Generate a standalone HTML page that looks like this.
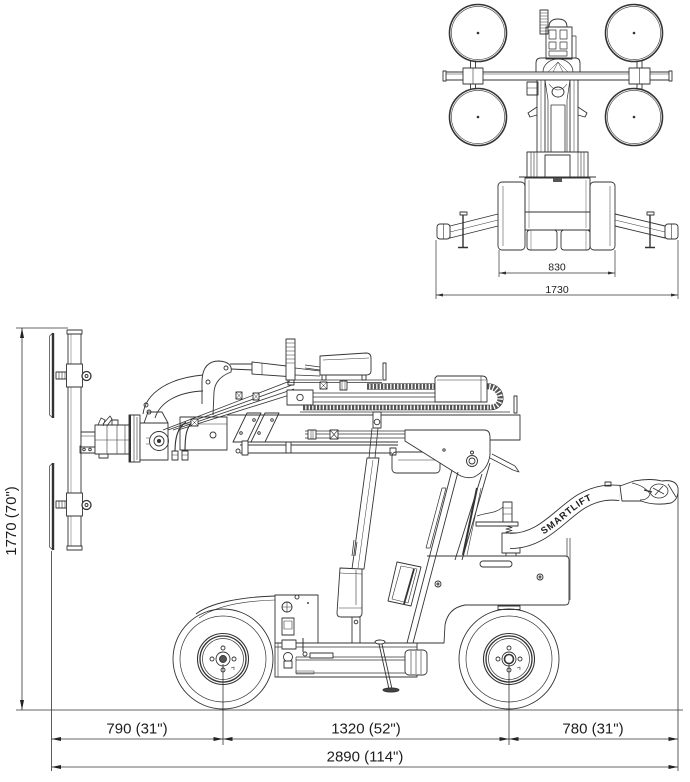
<!DOCTYPE html>
<html><head><meta charset="utf-8"><style>
html,body{margin:0;padding:0;background:#fff;}
svg{display:block;}
text{font-family:"Liberation Sans",Arial,sans-serif;fill:#1e1e1e;stroke:none;}
</style></head><body>
<svg width="690" height="782" viewBox="0 0 690 782" xmlns="http://www.w3.org/2000/svg" fill="none" stroke="#333" stroke-width="0.9" stroke-linejoin="round">

<!-- ================= TOP VIEW ================= -->
<g>
  <circle cx="478" cy="33" r="28.5" stroke-width="1.6"/><circle cx="478" cy="33" r="26.6" stroke-width=".6"/>
  <circle cx="634" cy="33" r="28.5" stroke-width="1.6"/><circle cx="634" cy="33" r="26.6" stroke-width=".6"/>
  <circle cx="478" cy="117" r="28.5" stroke-width="1.6"/><circle cx="478" cy="117" r="26.6" stroke-width=".6"/>
  <circle cx="634" cy="117" r="28.5" stroke-width="1.6"/><circle cx="634" cy="117" r="26.6" stroke-width=".6"/>
  <g fill="#333" stroke="none">
    <circle cx="478" cy="33" r="1.3"/><circle cx="634" cy="33" r="1.3"/>
    <circle cx="478" cy="117" r="1.3"/><circle cx="634" cy="117" r="1.3"/>
  </g>
  <rect x="470.5" y="61" width="5" height="28"/>
  <rect x="637" y="61" width="5" height="28"/>
  <rect x="444" y="72" width="227" height="8" fill="#fff"/>
  <line x1="444" y1="74" x2="671" y2="74" stroke-width=".5"/>
  <rect x="443" y="71" width="3" height="10" fill="#fff"/>
  <rect x="669" y="71" width="3" height="10" fill="#fff"/>
  <rect x="463" y="68" width="20" height="16" fill="#fff"/>
  <rect x="629" y="68" width="21" height="16" fill="#fff"/>
  <line x1="473" y1="68" x2="473" y2="84" stroke-width=".6"/>
  <line x1="639.5" y1="68" x2="639.5" y2="84" stroke-width=".6"/>
  <rect x="540" y="10" width="8" height="24"/>
  <path d="M540,13h8M540,16h8M540,19h8M540,22h8M540,25h8M540,28h8M540,31h8" stroke-width=".6"/>
  <path d="M549,27 Q549,19 558,19 Q567,19 567,27 Z"/>
  <rect x="546" y="27" width="26" height="32"/>
  <rect x="549" y="30" width="7" height="9" stroke-width=".7"/>
  <rect x="560" y="30" width="7" height="9" stroke-width=".7"/>
  <rect x="549" y="42" width="7" height="7" stroke-width=".7"/>
  <rect x="560" y="42" width="7" height="7" stroke-width=".7"/>
  <rect x="549" y="51" width="18" height="5" stroke-width=".7"/>
  <rect x="572" y="36" width="4" height="22" stroke-width=".7"/>
  <path d="M536,72 L536,63 Q536,58 541,58 L575,58 Q580,58 580,63 L580,72"/>
  <path d="M543,72 A15,13 0 0 1 573,72" stroke-width=".7"/>
  <path d="M548,72 L558,62 L568,72 M553,72 L558,62 L563,72" stroke-width=".5"/>
  <rect x="527" y="82" width="11" height="13" fill="#fff"/>
  <line x1="527" y1="88" x2="538" y2="88" stroke-width=".5"/>
  <rect x="537" y="80" width="8" height="77"/>
  <rect x="570" y="80" width="8" height="77"/>
  <line x1="541" y1="80" x2="541" y2="157" stroke-width=".5"/>
  <line x1="574" y1="80" x2="574" y2="157" stroke-width=".5"/>
  <path d="M545,80 L548,100 L548,157 M570,80 L567,100 L567,157" stroke-width=".7"/>
  <rect x="551" y="105" width="14" height="52" stroke-width=".8"/>
  <ellipse cx="558" cy="92" rx="6" ry="5"/>
  <path d="M549,84 Q558,96 567,84" stroke-width=".6"/>
  <path d="M537,107 L528,113 L530,117 L537,115 M578,107 L587,113 L585,117 L578,115"/>
  <rect x="527" y="152" width="61" height="26" fill="#fff"/>
  <path d="M531,152v26M534,152v26M537,152v26M578,152v26M581,152v26M584,152v26" stroke-width=".6"/>
  <rect x="545" y="155" width="25" height="23"/>
  <line x1="519" y1="177" x2="596" y2="177" stroke-width="1"/>
  <rect x="525" y="178" width="65" height="52" fill="#fff"/>
  <line x1="525" y1="212" x2="590" y2="212"/>
  <path d="M529,180v48M586,180v48" stroke-width=".4"/>
  <rect x="553" y="178" width="9" height="4" fill="#555" stroke="none"/>
  <rect x="498" y="182" width="27" height="68" rx="4"/>
  <line x1="503" y1="186" x2="503" y2="246" stroke-width=".5"/>
  <rect x="590" y="182" width="25" height="68" rx="4"/>
  <line x1="610" y1="186" x2="610" y2="246" stroke-width=".5"/>
  <rect x="527" y="230" width="30" height="20" rx="3"/>
  <rect x="561" y="230" width="29" height="20" rx="3"/>
  <path d="M531,230v20M586,230v20" stroke-width=".4"/>
  <polygon points="450,226 498,214 498,226 450,238" fill="#fff"/>
  <line x1="450" y1="232" x2="498" y2="220" stroke-width=".5"/>
  <rect x="437" y="224" width="13" height="15" rx="3" fill="#fff"/>
  <line x1="443.5" y1="224" x2="443.5" y2="239" stroke-width=".6"/>
  <line x1="463" y1="214" x2="463" y2="247" stroke-width="1.4"/>
  <rect x="460" y="212" width="7" height="3" fill="#fff"/>
  <line x1="458" y1="247.5" x2="468" y2="247.5" stroke-width="1.5"/>
  <polygon points="615,214 665,226 665,238 615,226" fill="#fff"/>
  <line x1="615" y1="220" x2="665" y2="232" stroke-width=".5"/>
  <rect x="665" y="224" width="13" height="15" rx="3" fill="#fff"/>
  <line x1="671.5" y1="224" x2="671.5" y2="239" stroke-width=".6"/>
  <line x1="650" y1="214" x2="650" y2="247" stroke-width="1.4"/>
  <rect x="647" y="212" width="7" height="3" fill="#fff"/>
  <line x1="645" y1="247.5" x2="655" y2="247.5" stroke-width="1.5"/>
  <g stroke-width=".7">
    <line x1="499" y1="250" x2="499" y2="277"/>
    <line x1="615" y1="250" x2="615" y2="277"/>
    <line x1="499" y1="273" x2="615" y2="273"/>
    <line x1="436" y1="240" x2="436" y2="299"/>
    <line x1="678" y1="240" x2="678" y2="299"/>
    <line x1="436" y1="295" x2="678" y2="295"/>
  </g>
  <g fill="#333" stroke="none">
    <polygon points="499,273 506,271.5 506,274.5"/><polygon points="615,273 608,271.5 608,274.5"/>
    <polygon points="436,295 443,293.5 443,296.5"/><polygon points="678,295 671,293.5 671,296.5"/>
  </g>
  <text x="557" y="270.5" font-size="10.5" text-anchor="middle">830</text>
  <text x="557" y="293" font-size="10.5" text-anchor="middle">1730</text>
</g>

<!-- ================= SIDE VIEW ================= -->
<g stroke-width=".8">
  <line x1="16" y1="328" x2="68" y2="328"/>
  <line x1="22" y1="328" x2="22" y2="710"/>
  <line x1="16" y1="710" x2="683" y2="710"/>
  <line x1="51.5" y1="551" x2="51.5" y2="771"/>
  <line x1="223" y1="664" x2="223" y2="745"/>
  <line x1="509" y1="664" x2="509" y2="745"/>
  <line x1="678" y1="488" x2="678" y2="771"/>
  <line x1="51.5" y1="739" x2="678" y2="739"/>
  <line x1="51.5" y1="767" x2="678" y2="767"/>
</g>
<g fill="#222" stroke="none">
  <polygon points="22,328 20,338 24,338"/>
  <polygon points="22,710 20,700 24,700"/>
  <polygon points="51.5,739 61,737 61,741"/><polygon points="223,739 213.5,737 213.5,741"/>
  <polygon points="223,739 232.5,737 232.5,741"/><polygon points="509,739 499.5,737 499.5,741"/>
  <polygon points="509,739 518.5,737 518.5,741"/><polygon points="678,739 668.5,737 668.5,741"/>
  <polygon points="51.5,767 61,765 61,769"/><polygon points="678,767 668.5,765 668.5,769"/>
</g>
<text x="0" y="0" font-size="15" text-anchor="middle" transform="translate(16,521) rotate(-90)">1770 (70")</text>
<text x="137" y="733.5" font-size="15" text-anchor="middle">790 (31")</text>
<text x="366" y="733.5" font-size="15" text-anchor="middle">1320 (52")</text>
<text x="593" y="733.5" font-size="15" text-anchor="middle">780 (31")</text>
<text x="365" y="761.5" font-size="15" text-anchor="middle">2890 (114")</text>

<!-- glass frame -->
<g>
  <path d="M49.5,336 L49.5,415 M49.5,336 L53,333 M49.5,415 L53,418" stroke-width=".7"/>
  <line x1="53" y1="333" x2="53" y2="418" stroke-width="2.4"/>
  <path d="M49.5,466 L49.5,547 M49.5,466 L53,463 M49.5,547 L53,550" stroke-width=".7"/>
  <line x1="53" y1="463" x2="53" y2="550" stroke-width="2.4"/>
  <rect x="68" y="332" width="13" height="217" fill="#fff"/>
  <line x1="71" y1="334" x2="71" y2="547" stroke-width=".4"/>
  <rect x="67" y="330" width="15" height="4" fill="#fff"/>
  <rect x="67" y="546" width="15" height="4" fill="#fff"/>
  <rect x="56" y="372" width="12" height="7" fill="#fff"/>
  <path d="M59,372v7M62,372v7M65,372v7" stroke-width=".6"/>
  <rect x="66.5" y="364" width="16" height="23" fill="#fff"/>
  <circle cx="86.5" cy="376" r="4.5" fill="#fff" stroke-width="1.3"/>
  <circle cx="86.5" cy="376" r="1.5"/>
  <rect x="56" y="501" width="12" height="7" fill="#fff"/>
  <path d="M59,501v7M62,501v7M65,501v7" stroke-width=".6"/>
  <rect x="66.5" y="493" width="16" height="23" fill="#fff"/>
  <circle cx="86.5" cy="505" r="4.5" fill="#fff" stroke-width="1.3"/>
  <circle cx="86.5" cy="505" r="1.5"/>
  <rect x="80" y="446" width="15" height="7"/>
  <circle cx="84" cy="449.5" r="1.3"/><circle cx="90" cy="449.5" r="1.3"/>
</g>

<!-- rotator -->
<g>
  <rect x="81" y="432" width="14" height="15" fill="#fff"/>
  <path d="M81,436h14" stroke-width=".5"/>
  <rect x="95" y="425" width="35" height="29" fill="#fff"/>
  <path d="M107,425v29M117,425v29M125,425v29M95,440h35" stroke-width=".6"/>
  <path d="M98,425 L101,418 L105,420 L103,426 M103,424 L110,416 L112,419 L107,426" stroke-width=".8"/>
  <rect x="99" y="454" width="9" height="4" fill="#fff"/>
  <rect x="112" y="420" width="6" height="5"/>
  <rect x="129" y="415" width="11" height="47" fill="#fff"/>
  <line x1="130" y1="415" x2="130" y2="462" stroke-width="2"/>
  <path d="M134,415v47M137,417v43" stroke-width=".6"/>
  <rect x="140" y="423" width="28" height="37" fill="#fff"/>
  <circle cx="159" cy="441" r="9.5"/>
  <circle cx="159" cy="441" r="5"/>
  <circle cx="159" cy="441" r="1.6" fill="#333"/>
  <path d="M144,423 L148,412 L162,412 L168,423" />
  <path d="M146,438h4M146,444h4" stroke-width=".6"/>
</g>

<!-- curved arm and pivot plate -->
<g>
  <path d="M143,414 C146,392 170,378 203,375"/>
  <path d="M155,418 C160,402 178,392 203,391"/>
  <circle cx="146" cy="405" r="2"/><circle cx="149" cy="412" r="2"/>
  <path d="M202,404 L202,380 Q203,361 219,361 Q233,362 231,372 Q215,378 214,392 L213,415"/>
  <circle cx="208" cy="382" r="2"/><circle cx="226" cy="368" r="2"/>
  <path d="M230,364 L253,364 M231,369 L253,370"/>
  <polygon points="252,362 295,367 295,377 252,374" fill="#fff"/>
  <line x1="262" y1="363" x2="262" y2="375" stroke-width=".6"/>
  <path d="M295,368 L320,371 M295,375 L320,376" stroke-width=".8"/>
</g>

<!-- boom base -->
<g>
  <rect x="180" y="417" width="47" height="33" fill="#fff"/>
  <circle cx="213" cy="435" r="3"/>
  <line x1="180" y1="424" x2="227" y2="424" stroke-width=".5"/>
  <path d="M163,430 L290,381 M168,430 L292,385 M173,430 L294,389 M178,430 L296,393" stroke-width=".8"/>
  <path d="M186,422 C178,428 175,436 175,452 M193,421 C186,428 185,436 185,452" stroke-width="1.1"/>
  <rect x="172" y="451" width="6" height="9" fill="#fff"/>
  <rect x="182" y="451" width="6" height="9" fill="#fff"/>
  <path d="M172,455h6M182,455h6" stroke-width=".5"/>
  <rect x="191" y="419" width="7" height="7" fill="#fff"/><path d="M191,419l7,7M198,419l-7,7" stroke-width=".5"/>
  <rect x="236" y="392" width="6" height="7" fill="#fff"/><path d="M236,392l6,7M242,392l-6,7" stroke-width=".5"/>
  <rect x="253" y="393" width="6" height="7" fill="#fff"/><path d="M253,393l6,7M259,393l-6,7" stroke-width=".5"/>
  <polygon points="233,442 247,413 261,413 247,442" fill="#fff"/>
  <polygon points="251,442 265,413 279,413 265,442" fill="#fff"/>
  <circle cx="241" cy="433" r="1.3"/><circle cx="254" cy="420" r="1.3"/>
  <circle cx="259" cy="433" r="1.3"/><circle cx="272" cy="420" r="1.3"/>
  <circle cx="238" cy="451" r="2"/>
</g>

<!-- boom -->
<g>
  <path d="M227,415 L520,415 L520,440 L488,440"/>
  <path d="M240,442 L398,442 M240,445 L398,445 M240,453 L392,453"/>
  <rect x="242" y="441" width="6" height="14" fill="#fff"/>
  <rect x="286" y="442" width="5" height="11" fill="#fff"/>
  <rect x="392" y="452" width="48" height="21" rx="4" fill="#fff"/>
  <line x1="398" y1="460" x2="440" y2="460" stroke-width=".5"/>
  <rect x="390" y="448" width="6" height="7"/>
  <path d="M305,431 L445,431 M305,434 L445,434 M305,438 L445,438" stroke-width=".7"/>
  <rect x="308" y="430" width="8" height="9" fill="#fff"/><rect x="330" y="430" width="8" height="9" fill="#fff"/>
  <rect x="413" y="430" width="8" height="9" fill="#fff"/><rect x="433" y="430" width="8" height="9" fill="#fff"/>
  <path d="M330,430l8,9M338,430l-8,9M413,430l8,9M421,430l-8,9" stroke-width=".6"/>
  <path d="M311,430v9M313,430v9M436,430v9M438,430v9" stroke-width=".5"/>
  <path d="M287,380 L382,380 M287,382.5 L382,382.5" stroke-width=".8"/>
  <rect x="287" y="390" width="26" height="15" fill="#fff"/>
  <circle cx="300" cy="397.5" r="3.2"/>
  <path d="M313,393 L480,393 M313,397 L480,397 M313,402 L480,402 M300,412 L510,412" stroke-width=".7"/>
  <path d="M367,386.5 L487,386.5" stroke="#555" stroke-width="5.5" stroke-dasharray="2.2 1.3"/>
  <path d="M367,383.5 L487,383.5 M367,389.5 L487,389.5" stroke-width=".6"/>
  <path d="M303,407.5 L490,407.5" stroke="#555" stroke-width="5" stroke-dasharray="2.2 1.3"/>
  <path d="M303,405 L490,405 M303,410 L490,410" stroke-width=".6"/>
  <path d="M487,386.5 C503,386.5 505,407.5 490,407.5" stroke="#555" stroke-width="5.5" stroke-dasharray="2.2 1.3"/>
  <path d="M487,383.5 C507,383.5 509,410 490,410" stroke-width=".6"/>
  <path d="M320,356 L366,353 Q371,353 371,358 L371,371 Q371,375 366,375 L320,375 Z" fill="#fff"/>
  <line x1="323" y1="360" x2="369" y2="358" stroke-width=".6"/>
  <path d="M305,365 L320,367 M305,368 L320,370" stroke-width=".8"/>
  <rect x="322" y="375" width="4" height="5"/><rect x="362" y="375" width="4" height="5"/>
  <path d="M437,376 L482,376 Q487,376 487,381 L487,402 L435,402 L435,378 Z" fill="#fff"/>
  <line x1="437" y1="380" x2="486" y2="380" stroke-width=".6"/>
  <line x1="481" y1="376" x2="481" y2="402" stroke-width=".6"/>
  <rect x="320" y="382" width="7" height="7" fill="#fff"/><path d="M320,382l7,7M327,382l-7,7" stroke-width=".5"/>
  <rect x="340" y="381" width="7" height="9" fill="#fff"/><path d="M342,381v9M345,381v9" stroke-width=".5"/>
  <rect x="383" y="363" width="3" height="17"/>
  <rect x="514" y="396" width="3" height="17"/>
  <rect x="286" y="339" width="9" height="41" fill="#fff"/>
  <path d="M286,343h9M286,347h9M286,351h9M286,355h9M286,359h9M286,363h9" stroke-width=".6"/>
  <rect x="288" y="380" width="6" height="5"/>
</g>

<!-- mast -->
<g>
  <rect x="373" y="412" width="8" height="16" fill="#fff"/>
  <circle cx="377" cy="422" r="2.8"/>
  <path d="M372,428 L369,458 M378,428 L375,458" stroke-width=".8"/>
  <polygon points="367,458 379,458 364,569 352,569" fill="#fff"/>
  <line x1="373" y1="460" x2="358" y2="568" stroke-width=".5"/>
  <path d="M352,556 L354,540 M355,556 L357,542" stroke-width=".8"/>
  <path d="M340,568 L362,569 L362,613 Q362,617 358,617 L341,617 Q337,617 337,613 Z" fill="#fff"/>
  <path d="M340,573 L362,574 M339,608 L362,608" stroke-width=".6"/>
  <line x1="356" y1="570" x2="356" y2="605" stroke-width=".6"/>
  <rect x="352" y="617" width="8" height="26" fill="#fff"/>
  <circle cx="356" cy="622" r="1.8"/>
  <path d="M405,430 L484,430 Q490,430 490,437 L490,455 Q488,470 474,477 Q466,479 459,475 L405,441 Z" fill="#fff"/>
  <circle cx="472" cy="461" r="5.5"/><circle cx="472" cy="461" r="3"/>
  <circle cx="472" cy="452.5" r="1.5"/>
  <circle cx="444" cy="450" r="1.2"/>
  <path d="M490,458 L513,470 M492,454 L515,466 M513,470 L519,472 L515,466" stroke-width=".8"/>
  <path d="M458,472 L413,643 M452,470 L407,643"/>
  <path d="M446,488 L430,548 M442,488 L426,548 M442,488 L446,488 M426,548 L430,548" stroke-width=".7"/>
  <path d="M490,463 L462,560 M482,474 L455,560"/>
  <path d="M477,488 L463,555" stroke-width="2"/>
  <path d="M481,488 L467,555" stroke-width=".6"/>
  <polygon points="397,562 421,567 411,606 388,601" fill="#fff"/>
  <polygon points="401,566 417,569 408,603 392,599" stroke-width=".6"/>
  <line x1="414" y1="569" x2="404" y2="604" stroke-width="1.8"/>
  <path d="M427,556 L565,556 Q569,556 569,560 L569,601 Q569,605 565,605 L465,605 Q448,608 445,625 L444,643 L407,643"/>
  <path d="M567,538 L567,556 M570,538 L570,600" stroke-width=".7"/>
  <rect x="480" y="561" width="32" height="6" rx="3"/>
  <circle cx="438" cy="584" r="3"/><circle cx="438" cy="584" r="1"/>
  <circle cx="540" cy="577" r="3"/><circle cx="540" cy="577" r="1"/>
  <rect x="498" y="606" width="22" height="3.5" fill="#fff"/>
  <rect x="503" y="502" width="9" height="20" fill="#fff"/>
  <path d="M503,508h9M503,514h9" stroke-width=".5"/>
  <path d="M503,507 C495,514 488,512 477,516" stroke-width=".7"/>
  <rect x="476" y="522" width="42" height="4" fill="#fff"/>
  <path d="M506,526 l6,1.5 l-6,1.5 l6,1.5 l-6,1.5 l6,1.5" stroke-width=".8"/>
</g>

<!-- tiller -->
<g>
  <rect x="502" y="533" width="18" height="20" fill="#fff"/>
  <rect x="506" y="553" width="10" height="3" fill="#fff"/>
  <path id="tp" d="M510,541 C543,541 560,514 582,501 C598,492 610,492 620,493" stroke="#333" stroke-width="16" stroke-linecap="butt"/>
  <path d="M510,541 C543,541 560,514 582,501 C598,492 610,492 620,493" stroke="#fff" stroke-width="14.2" stroke-linecap="butt"/>
  <text font-size="9.5" font-weight="bold" letter-spacing="0.8" dy="3.4" fill="#111"><textPath href="#tp" startOffset="27%">SMARTLIFT</textPath></text>
  <rect x="605" y="482" width="6" height="4"/>
  <path d="M620,486 L634,481 Q650,478 662,481 Q676,479 678,488 Q679,499 671,503 Q655,506 641,501 L622,501 Z" fill="#fff"/>
  <path d="M632,483 Q645,486 650,494 Q648,500 640,500" stroke-width=".7"/>
  <ellipse cx="659" cy="491" rx="9" ry="7" stroke-width=".8"/>
  <path d="M653,488 L664,494 M655,495 L663,486 M668,484 L676,497" stroke-width=".8"/>
  <path d="M644,490 L652,492" stroke-width="1.4"/>
</g>

<!-- front section -->
<g>
  <path d="M196,614 C210,603 240,597 275,596"/>
  <path d="M199,618 C214,607 240,601 275,600" stroke-width=".6"/>
  <rect x="275" y="595" width="43" height="48" fill="#fff"/>
  <circle cx="297" cy="597" r="2"/>
  <circle cx="287" cy="607" r="5"/>
  <path d="M287,602v10M282,607h10" stroke-width=".6"/>
  <rect x="282" y="618" width="12" height="17"/>
  <rect x="284" y="621" width="8" height="8" stroke-width=".6"/>
  <line x1="307" y1="603" x2="309" y2="603" stroke-width="1.4"/>
  <rect x="275" y="643" width="142" height="34" fill="#fff"/>
  <path d="M275,647 L417,647 M296,657 L410,657 M296,660 L410,660 M296,673 L410,673 M296,657 L296,673" stroke-width=".7"/>
  <rect x="282" y="640" width="14" height="9" fill="#fff"/>
  <circle cx="288" cy="657" r="4.5" fill="#fff"/>
  <rect x="284" y="661" width="8" height="7" fill="#fff"/>
  <line x1="278" y1="643" x2="278" y2="677" stroke-width=".6"/>
  <path d="M303,638 L303,652" stroke-width="1"/>
  <rect x="310" y="653" width="23" height="5" fill="#fff"/>
  <circle cx="305" cy="654" r="2"/>
  <rect x="296" y="671" width="18" height="3" stroke-width=".5"/>
  <path d="M379,644 L389,689 M382,644 L392,689" stroke-width=".9"/>
  <ellipse cx="380" cy="642" rx="5" ry="2" fill="#fff"/>
  <ellipse cx="391" cy="690" rx="8" ry="2" fill="#444"/>
  <rect x="405" y="650" width="22" height="25" rx="4" fill="#fff"/>
  <path d="M411,651v23M416,651v23M421,651v23" stroke-width=".6"/>
</g>

<!-- wheels -->
<g>
  <circle cx="223" cy="659" r="50"/>
  <circle cx="223" cy="659" r="43" stroke-width=".7"/>
  <circle cx="223" cy="659" r="25.5" stroke-width="1.1"/>
  <circle cx="223" cy="659" r="23" stroke-width="1.3"/>
  <circle cx="223" cy="659" r="20.5" stroke-width=".7"/>
  <circle cx="223" cy="659" r="7"/>
  <circle cx="223" cy="659" r="3.5" fill="#555"/>
  <circle cx="223" cy="648" r="2"/><circle cx="212" cy="659" r="2"/>
  <circle cx="234" cy="659" r="2"/><circle cx="223" cy="670" r="2"/>
  <path d="M231,668 l3,-1 l0,3" stroke-width=".6"/>

  <circle cx="509" cy="659" r="50"/>
  <circle cx="509" cy="659" r="43" stroke-width=".7"/>
  <circle cx="509" cy="659" r="25.5" stroke-width="1.1"/>
  <circle cx="509" cy="659" r="23" stroke-width="1.3"/>
  <circle cx="509" cy="659" r="20.5" stroke-width=".7"/>
  <circle cx="509" cy="659" r="7"/>
  <circle cx="509" cy="659" r="4.5" stroke-width="1.6"/>
  <circle cx="509" cy="648" r="2"/><circle cx="498" cy="659" r="2"/>
  <circle cx="520" cy="659" r="2"/><circle cx="509" cy="670" r="2"/>
  <path d="M517,668 l3,-1 l0,3" stroke-width=".6"/>
</g>

</svg>
</body></html>
